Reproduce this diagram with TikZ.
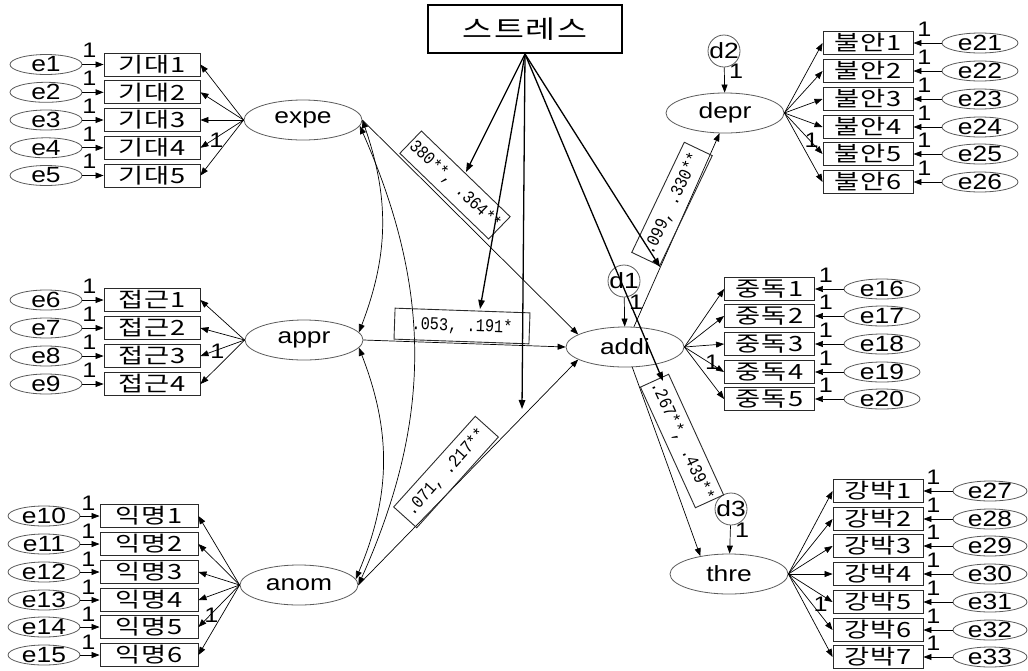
\documentclass[tikz,border=0pt]{standalone}
\usepackage{fontspec}
\setmainfont[FakeStretch=1.2]{Liberation Sans}
\newfontfamily\krfont[FakeStretch=1.3, LetterSpace=6]{Noto Sans CJK KR}
\newfontfamily\coeffont[FakeStretch=0.85]{Liberation Mono}
\usetikzlibrary{arrows.meta,shapes.geometric}
\definecolor{ovalgray}{HTML}{5A5A5A}
\definecolor{boxgray}{HTML}{2A2A2A}

\begin{document}
\begin{tikzpicture}[x=1pt, y=1pt,
    every node/.style={font=\fontsize{22}{24}\selectfont},
    latent/.style={ellipse, draw=ovalgray, line width=0.8pt, minimum width=118, minimum height=40, inner sep=0pt},
    errv/.style={ellipse, draw=ovalgray, line width=0.8pt, minimum width=72, minimum height=20, inner sep=-2pt},
    dvar/.style={circle, draw=ovalgray, line width=0.8pt, minimum size=32, inner sep=-2pt},
    indic/.style={rectangle, draw=boxgray, line width=0.9pt, minimum width=90, minimum height=23, inner sep=0pt, font=\krfont\fontsize{21}{22}\selectfont},
    coef/.style={draw=boxgray, line width=0.9pt, minimum width=122, minimum height=31, inner sep=2pt, font=\coeffont\fontsize{18}{19}\selectfont},
    one/.style={inner sep=0pt, font=\fontsize{21}{22}\selectfont},
    arr/.style={-{Triangle[length=8pt,width=6pt]}, line width=0.7pt},
    modarr/.style={-{Triangle[length=9pt,width=6.5pt]}, line width=1.3pt},
    covarr/.style={{Triangle[length=8pt,width=6pt]}-{Triangle[length=8pt,width=6pt]}, line width=0.7pt},
]
\useasboundingbox (0,0) rectangle (1028,-670);

% Latent variables
\node[latent] (expe) at (303,-120) {expe};
\node[latent] (appr) at (304,-340) {appr};
\node[latent] (anom) at (299,-585) {anom};
\node[latent] (addi) at (625,-347) {addi};
\node[latent] (depr) at (725,-113) {depr};
\node[latent] (thre) at (729,-574) {thre};

% Moderator
\node[draw=black, line width=2pt, minimum width=194, minimum height=48,
      font=\krfont\fontsize{25}{26}\selectfont] (stress) at (525,-29) {스트레스};

% Disturbances
\node[dvar] (d1) at (624,-281) {d1};
\node[dvar] (d2) at (724,-51) {d2};
\node[dvar] (d3) at (731,-509) {d3};
\draw[arr] (d1) -- (addi);
\draw[arr] (d2) -- (depr);
\draw[arr] (d3) -- (thre);
\node[one] at ([shift={(12,-21)}]d1) {1};
\node[one] at ([shift={(12,-20)}]d2) {1};
\node[one] at ([shift={(11,-21)}]d3) {1};

% Expectation indicators
\foreach \i/\y in {1/64.5, 2/92.3, 3/120, 4/147.8, 5/175.5} {
    \node[indic, minimum width=96] (ex\i) at (152,-\y) {기대\i};
    \node[errv] (e\i) at (46,-\y) {e\i};
    \draw[arr] (e\i) -- (ex\i);
    \draw[arr] (expe.west) -- (ex\i.east);
    \node[one] at ([shift={(7,14)}]e\i.east) {1};
}
\node[one] at ([shift={(16,8)}]ex4.east) {1};

% Approach indicators
\foreach \i/\n/\y in {1/6/300, 2/7/328, 3/8/356, 4/9/384} {
    \node[indic, minimum width=96] (ap\i) at (152,-\y) {접근\i};
    \node[errv] (e\n) at (46,-\y) {e\n};
    \draw[arr] (e\n) -- (ap\i);
    \draw[arr] (appr.west) -- (ap\i.east);
    \node[one] at ([shift={(7,14)}]e\n.east) {1};
}
\node[one] at ([shift={(17,5)}]ap3.east) {1};

% Anonymity indicators
\foreach \i/\n/\y in {1/10/516, 2/11/544, 3/12/572, 4/13/600, 5/14/627, 6/15/655} {
    \node[indic, minimum width=98] (an\i) at (149,-\y) {익명\i};
    \node[errv] (e\n) at (44,-\y) {e\n};
    \draw[arr] (e\n) -- (an\i);
    \draw[arr] (anom.west) -- (an\i.east);
    \node[one] at ([shift={(8,13)}]e\n.east) {1};
}
\node[one] at ([shift={(13,12)}]an5.east) {1};

% Depression indicators
\foreach \i/\n/\y in {1/21/43, 2/22/71, 3/23/99, 4/24/127, 5/25/154, 6/26/182} {
    \node[indic] (dp\i) at (868,-\y) {불안\i};
    \node[errv, minimum width=76] (e\n) at (980,-\y) {e\n};
    \draw[arr] (e\n) -- (dp\i);
    \draw[arr] (depr.east) -- (dp\i.west);
    \node[one] at ([shift={(11,14)}]dp\i.east) {1};
}
\node[one] at ([shift={(-11,14)}]dp5.west) {1};

% Addiction indicators
\foreach \i/\n/\y in {1/16/289, 2/17/316, 3/18/344, 4/19/372, 5/20/399} {
    \node[indic] (ad\i) at (769.5,-\y) {중독\i};
    \node[errv, minimum width=76] (e\n) at (882,-\y) {e\n};
    \draw[arr] (e\n) -- (ad\i);
    \draw[arr] (addi.east) -- (ad\i.west);
    \node[one] at ([shift={(11,14)}]ad\i.east) {1};
}
\node[one] at ([shift={(-12,10)}]ad4.west) {1};

% Obsession indicators
\foreach \i/\n/\y in {1/27/491, 2/28/519, 3/29/546, 4/30/574, 5/31/602, 6/32/630, 7/33/657} {
    \node[indic] (th\i) at (878,-\y) {강박\i};
    \node[errv, minimum width=74] (e\n) at (990,-\y) {e\n};
    \draw[arr] (e\n) -- (th\i);
    \draw[arr] (thre.east) -- (th\i.west);
    \node[one] at ([shift={(10,14)}]th\i.east) {1};
}
\node[one] at ([shift={(-12,-2)}]th5.west) {1};

% Structural paths
\draw[arr] (expe.east) -- (addi.165);
\draw[arr] (appr.east) -- (addi.west);
\draw[arr] (anom.east) -- (addi.195);
\draw[arr] (addi) -- (depr.255);
\draw[arr] (addi) -- (thre.148);

% Covariances
\draw[covarr] (expe.east) to[bend left=20] (appr.8);
\draw[covarr] (appr.-8) to[bend left=22] (anom.6);
\draw[covarr] (expe.-6) to[bend left=24] (anom.east);

% Coefficients
\node[coef, rotate=-44] (c1) at (455,-185) {380**, .364**};
\node[coef, rotate=-2, minimum width=135] (c2) at (462,-326) {.053, .191*};
\node[coef, rotate=48] (c3) at (446,-472) {.071, .217**};
\node[coef, rotate=64.5] (c4) at (672,-204) {.099, .330**};
\node[coef, rotate=-65.5] (c5) at (682,-441) {.267**, .439**};

% Moderation paths
\coordinate (m1) at (466,-172);
\coordinate (m2) at (480,-309);
\coordinate (m3) at (522,-409);
\coordinate (m4) at (660,-267);
\coordinate (m5) at (663,-381);
\foreach \m in {1,...,5} {
    \draw[modarr] (stress.south) -- (m\m);
}

\end{tikzpicture}
\end{document}
